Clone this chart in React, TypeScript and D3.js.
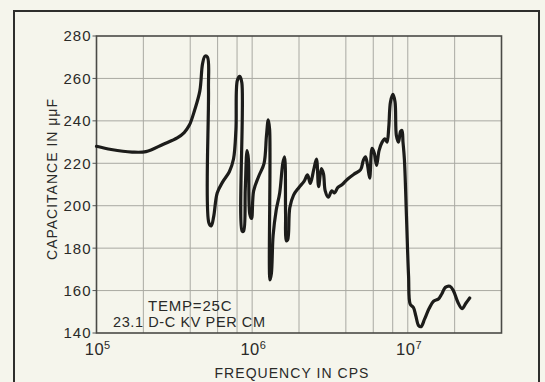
import React from "react";
import * as d3 from "d3";

const freq = [100000,124300,169300,207800,268800,330100,365900,395200,426800,461000,480300,498000,516300,524300,527000,546300,566300,596300,643900,713600,759000,786800,803100,832500,858600,863000,881000,903600,927200,946200,966000,991300,1022300,1104000,1193000,1236000,1269000,1295000,1302000,1329000,1364000,1428000,1503000,1574000,1615000,1640000,1657000,1692000,1745000,1846000,1994000,2154000,2268000,2363000,2487000,2591000,2673000,2785000,2873000,2948000,3087000,3250000,3386000,3546000,3791000,4094000,4538000,4977000,5186000,5349000,5516000,5689000,5897000,6081000,6304000,6535000,6844000,7131000,7355000,7547000,7743000,8027000,8278000,8450000,8714000,8987000,9174000,9316000,9508000,9806000,10113000,10376000,10867000,11266000,11740000,12170000,12812000,13700000,14640000,15730000,16560000,17430000,18640000,19620000,20980000,22320000,23610000,24990000];
const capacitance = [228,226.5,225.3,225.5,229,232,234.5,238,245,254,267,270.5,270,255,192,190.5,195,206,211,216,222,236,259,261,258,188,188,208,226,222,196,194,207,214,220,233,240.5,236,165,168,186,198,206,220,223,196,183.5,184,199,205,208.5,211.5,214.5,210.5,217,222,209,217.5,215,207,204,207,206,208.5,210,212.5,215,217,221.5,223,219,213,227,225,219,226,230,231.5,230,237,249,252.5,249,233,230,235,235.5,230,222,195,167,153.5,152,148,143.5,143,146.5,151.5,155,156,158.5,161.5,162,160,154.5,151.5,154,156.5];

const yTicks = [140,160,180,200,220,240,260,280];
const xGrid = [2e5,4e5,6e5,8e5,1e6,2e6,4e6,6e6,8e6,1e7,2e7];
const xLabels = [{ v: 1e5, exp: "5" }, { v: 1e6, exp: "6" }, { v: 1e7, exp: "7" }];
const note1 = "TEMP=25C";
const note2 = "23.1 D-C KV PER CM";
const xTitle = "FREQUENCY IN CPS";
const yTitle = "CAPACITANCE IN μμF";

export default function App() {
  const W = 545, H = 382;
  const L = 96.5, R = 501.5, T = 36, B = 333;
  const x = d3.scaleLog().domain([1e5, 4e7]).range([L, R]);
  const y = d3.scaleLinear().domain([140, 280]).range([B, T]);
  const pts: [number, number][] = freq.map((f, i) => [x(f), y(capacitance[i])]);
  const line = d3.line().curve(d3.curveCatmullRom.alpha(0.5));
  const font = "'Liberation Sans', Arial, sans-serif";
  const ink = "#2a2a28";
  const grid = "#a9a9a2";
  return (
    <svg width={W} height={H} style={{ position: "absolute", left: 0, top: 0, display: "block" }}>
      <rect x={0} y={0} width={W} height={H} fill="#f5f5ec" />
      <rect x={14} y={11} width={525} height={390} fill="none" stroke="#2e2e2c" strokeWidth={2} />
      {yTicks.slice(1, -1).map((t) => (
        <line key={"h" + t} x1={L} x2={R} y1={y(t)} y2={y(t)} stroke={grid} strokeWidth={1} />
      ))}
      {xGrid.map((g) => (
        <line key={"v" + g} x1={x(g)} x2={x(g)} y1={T} y2={B} stroke={grid} strokeWidth={1} />
      ))}
      {yTicks.map((t) => (
        <line key={"t" + t} x1={L - 4} x2={L} y1={y(t)} y2={y(t)} stroke="#555" strokeWidth={1} />
      ))}
      <rect x={L} y={T} width={R - L} height={B - T} fill="none" stroke="#4a4a46" strokeWidth={1.6} />
      <path d={line(pts) || ""} fill="none" stroke="#1c1c1a" strokeWidth={3.2} strokeLinejoin="round" strokeLinecap="round" />
      {yTicks.map((t) => (
        <text key={"l" + t} x={L - 5} y={y(t)} dy="0.36em" textAnchor="end" fontFamily={font} fontSize={15} letterSpacing={1} fill={ink}>
          {t}
        </text>
      ))}
      {xLabels.map((d) => (
        <text key={"x" + d.v} x={x(d.v) + 1} y={355} textAnchor="middle" fontFamily={font} fill={ink}>
          <tspan fontSize={16.5} letterSpacing={0.5}>10</tspan>
          <tspan fontSize={11} dy={-6}>{d.exp}</tspan>
        </text>
      ))}
      <text x={292} y={378} textAnchor="middle" fontFamily={font} fontSize={14} letterSpacing={1.05} fill={ink}>
        {xTitle}
      </text>
      <text transform="translate(57,179) rotate(-90)" textAnchor="middle" fontFamily={font} fontSize={14} letterSpacing={1} fill={ink}>
        {yTitle}
      </text>
      <text x={148} y={311} fontFamily={font} fontSize={15} letterSpacing={0.8} fill={ink}>
        {note1}
      </text>
      <text x={113} y={327} fontFamily={font} fontSize={14.5} letterSpacing={0.6} fill={ink}>
        {note2}
      </text>
    </svg>
  );
}
